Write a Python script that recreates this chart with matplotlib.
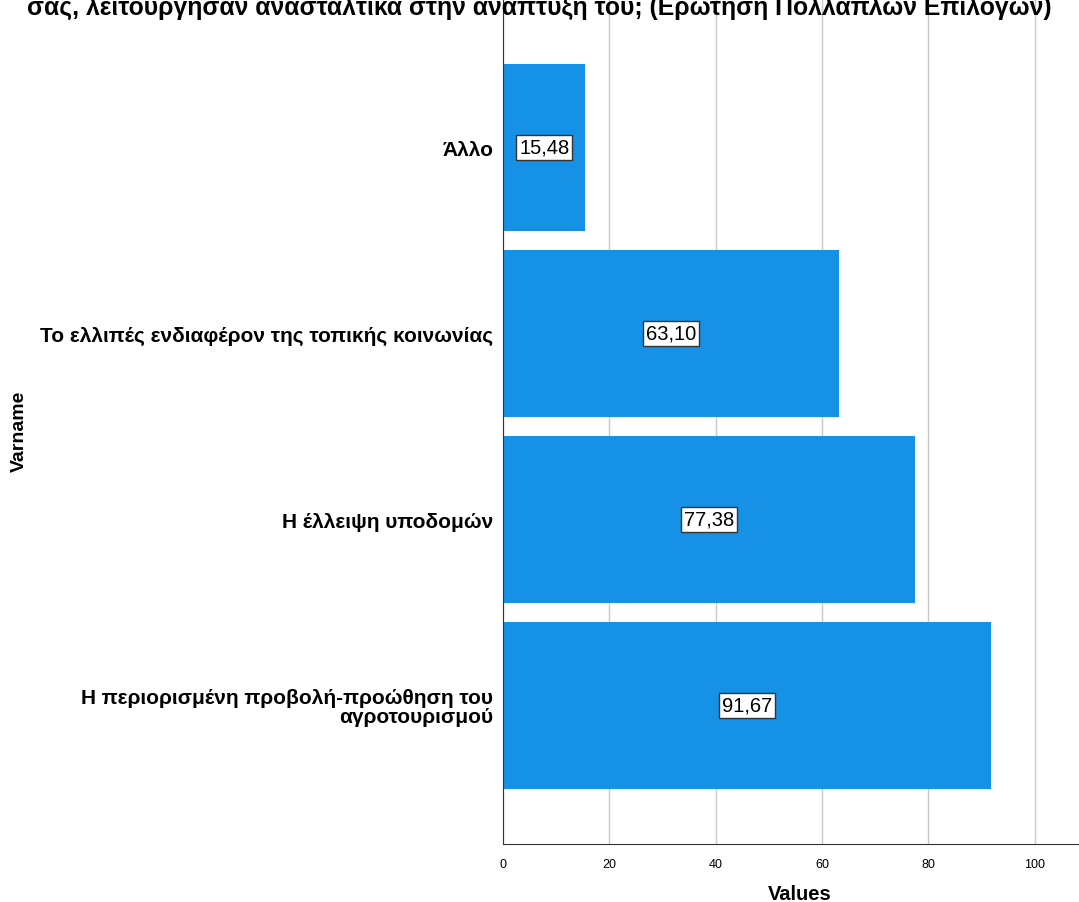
import matplotlib
matplotlib.use("Agg")
import matplotlib.pyplot as plt

plt.rcParams['font.family'] = ['Liberation Sans', 'DejaVu Sans']

categories = ["Η περιορισμένη προβολή-προώθηση του\nαγροτουρισμού",
              "Η έλλειψη υποδομών",
              "Το ελλιπές ενδιαφέρον της τοπικής κοινωνίας",
              "Άλλο"]
values = [91.67, 77.38, 63.10, 15.48]
value_labels = ["91,67", "77,38", "63,10", "15,48"]
x_ticks = [0, 20, 40, 60, 80, 100]
title_line = "σας, λειτούργησαν ανασταλτικά στην ανάπτυξή του; (Ερώτηση Πολλαπλών Επιλογών)"

fig = plt.figure(figsize=(10.79, 9.03), dpi=100)
ax = fig.add_axes([503/1079, 1 - 845/903, 1 - 503/1079, 845/903])

ypos = list(range(len(categories)))
ax.barh(ypos, values, height=0.9, color='#1591E6', zorder=3)
for y, v, lab in zip(ypos, values, value_labels):
    ax.text(v / 2, y, lab, ha='center', va='center', fontsize=14.5, color='black', zorder=4,
            bbox=dict(boxstyle='square,pad=0.15', facecolor='white', edgecolor='#333333', linewidth=1))

ax.set_xlim(0, 108.3)
ax.set_ylim(-0.745, 3.798)
ax.set_xticks(x_ticks)
ax.set_xticklabels([str(t) for t in x_ticks], fontsize=9)
ax.set_yticks(ypos)
ax.set_yticklabels(categories, fontsize=15, fontweight='bold', linespacing=1.0)
ax.tick_params(axis='y', length=0, pad=7)
ax.tick_params(axis='x', length=0, pad=10)
ax.xaxis.grid(True, color='#c8c8c8', linewidth=1, zorder=0)
ax.set_axisbelow(True)
for s in ['top', 'right']:
    ax.spines[s].set_visible(False)
ax.spines['left'].set_color('#333333')
ax.spines['bottom'].set_color('#333333')
ax.spines['left'].set_zorder(5)

fig.text(800/1079, 1 - 895/903, "Values", ha='center', va='center',
         fontsize=14.5, fontweight='bold')
fig.text(19/1079, 1 - 431/903, "Varname", rotation=90, ha='center', va='center',
         fontsize=14, fontweight='bold')
fig.text(0.5, 1 - 15/903, title_line, ha='center', va='baseline', fontsize=17.8, fontweight='bold')

fig.savefig("out.png", dpi=100)
